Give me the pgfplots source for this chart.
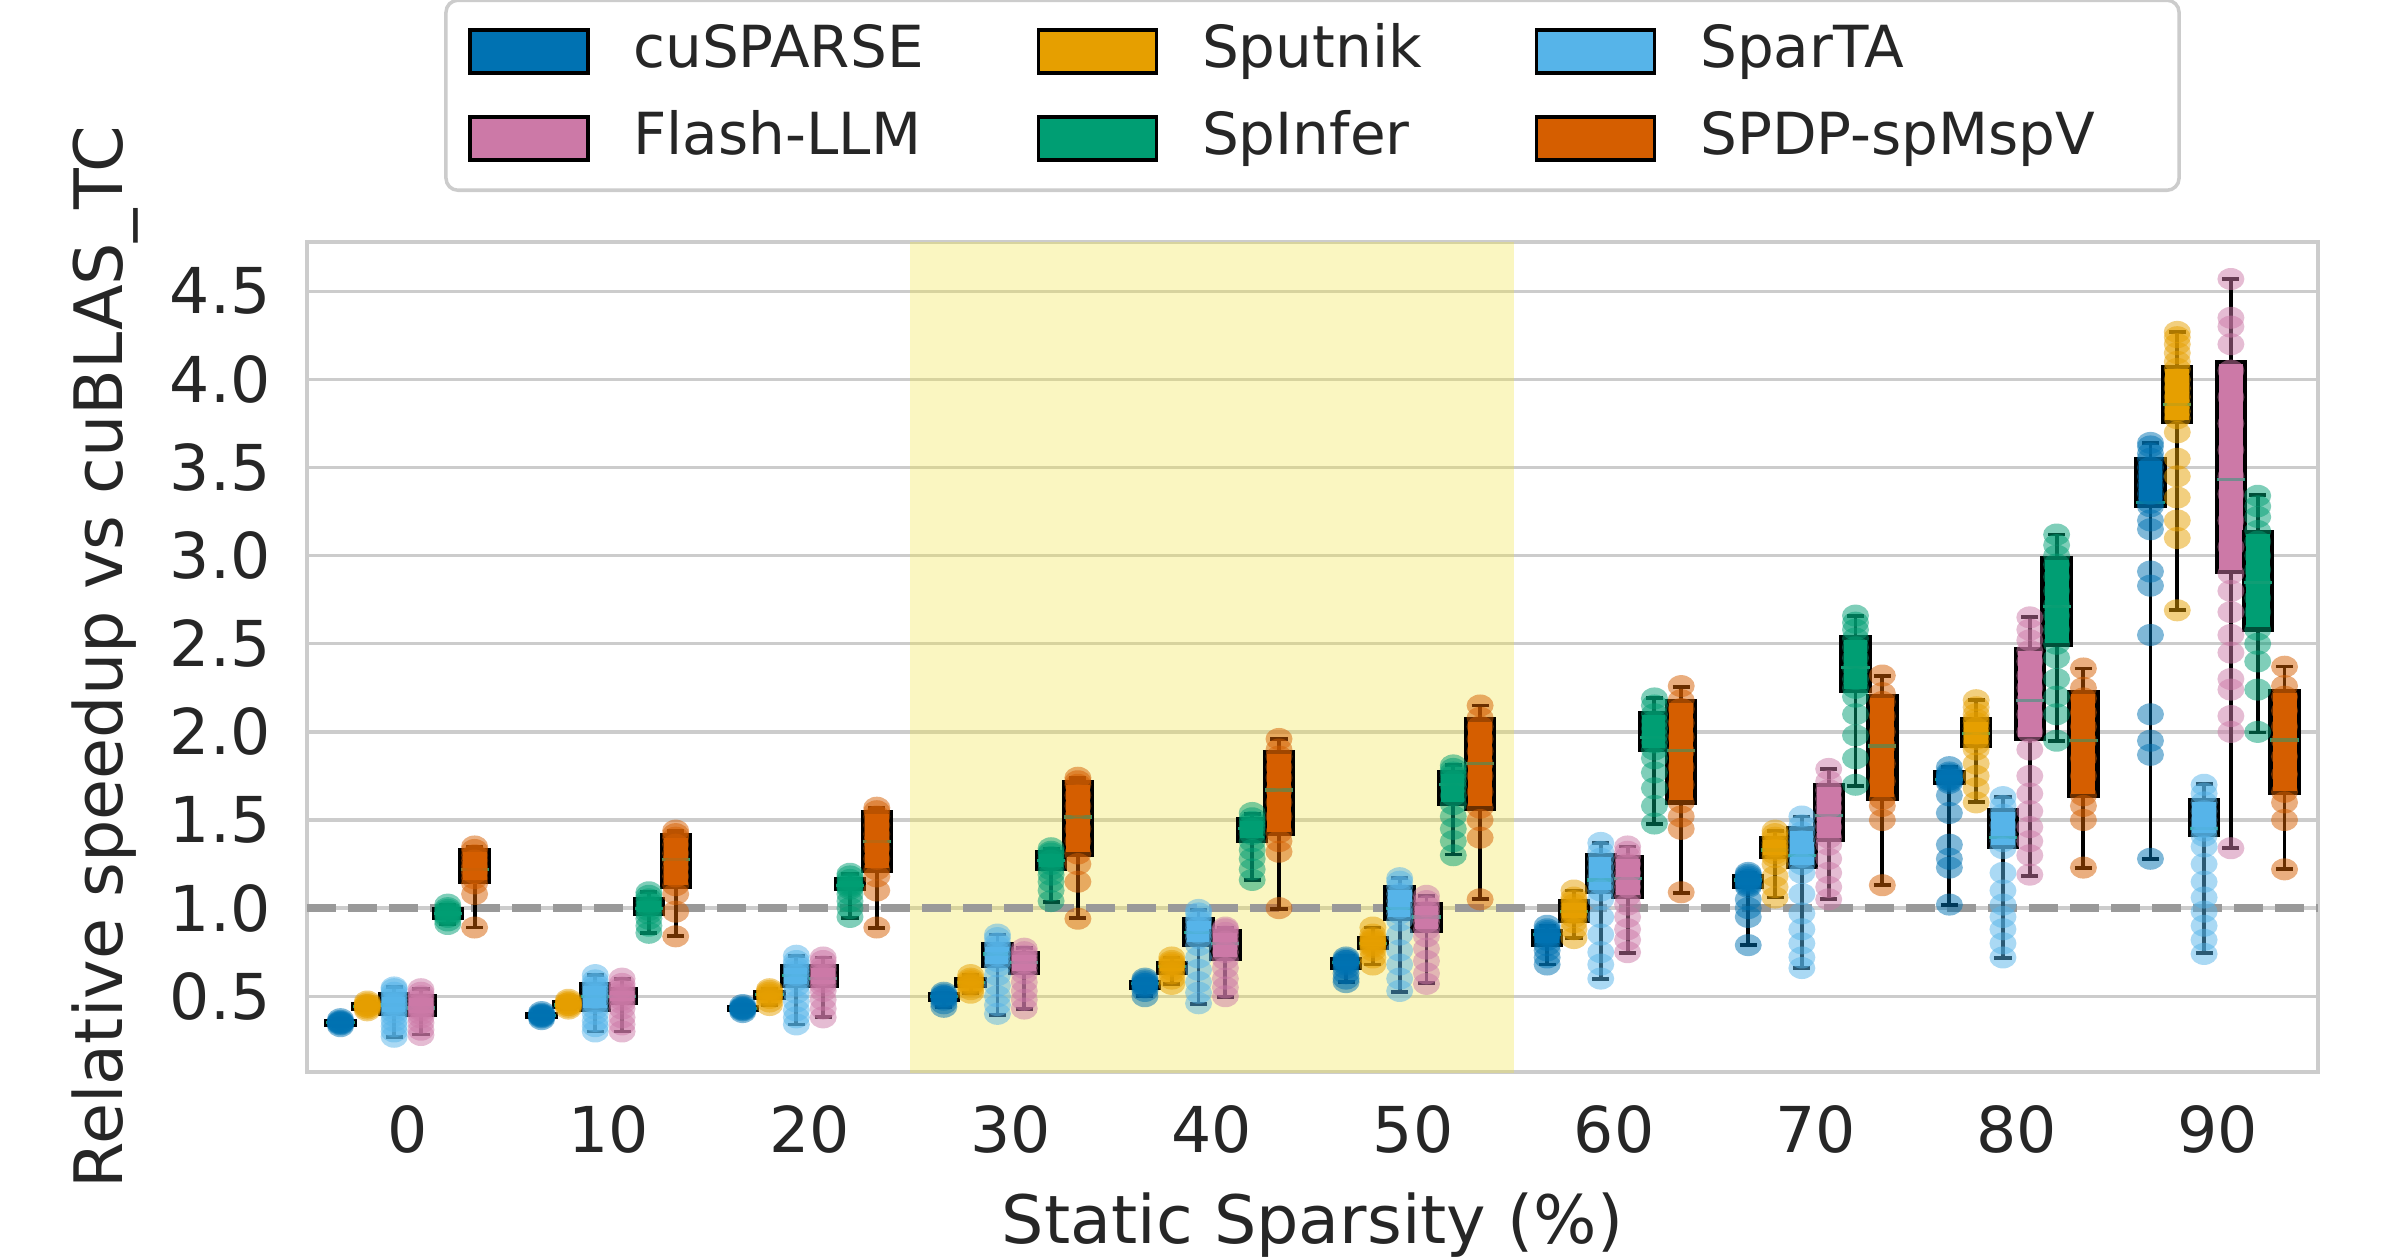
\documentclass[border=0pt]{standalone}
\usepackage{fontspec}
\setmainfont{DejaVu Sans}
\usepackage{pgfplots}
\usepackage{pgfplotstable}
\pgfplotsset{compat=1.18}
\usepgfplotslibrary{statistics}

\definecolor{cA}{HTML}{0072B2}
\definecolor{cB}{HTML}{E69F00}
\definecolor{cC}{HTML}{56B4E9}
\definecolor{cD}{HTML}{CC79A7}
\definecolor{cE}{HTML}{009E73}
\definecolor{cF}{HTML}{D55E00}
\definecolor{gridc}{HTML}{CCCCCC}
\definecolor{txt}{HTML}{262626}
\definecolor{hly}{HTML}{F0E442}
\definecolor{dashc}{HTML}{999999}
\definecolor{medc}{HTML}{1F9E78}

\pgfdeclareplotmark{ell}{%
  \pgfpathellipse{\pgfpointorigin}{\pgfqpoint{1.35mm}{0pt}}{\pgfqpoint{0pt}{1.1mm}}%
  \pgfusepathqfill}

\newcommand{\bx}[7]{\addplot[forget plot, draw=black, line width=1.2pt, fill=#1,
  boxplot prepared={draw direction=y, draw position={#2}, lower whisker=#3, lower quartile=#4,
  median=#5, upper quartile=#6, upper whisker=#7}] coordinates {};}
\newcommand{\bA}[6]{\bx{cA}{#1-0.3333}{#2}{#3}{#4}{#5}{#6}}
\newcommand{\bB}[6]{\bx{cB}{#1-0.2}{#2}{#3}{#4}{#5}{#6}}
\newcommand{\bC}[6]{\bx{cC}{#1-0.0667}{#2}{#3}{#4}{#5}{#6}}
\newcommand{\bD}[6]{\bx{cD}{#1+0.0667}{#2}{#3}{#4}{#5}{#6}}
\newcommand{\bE}[6]{\bx{cE}{#1+0.2}{#2}{#3}{#4}{#5}{#6}}
\newcommand{\bF}[6]{\bx{cF}{#1+0.3333}{#2}{#3}{#4}{#5}{#6}}

% cuSPARSE points
\pgfplotstableread[row sep=\\]{g v\\
0 0.33\\0 0.34\\0 0.345\\0 0.35\\0 0.35\\0 0.355\\0 0.36\\0 0.37\\
1 0.37\\1 0.38\\1 0.385\\1 0.39\\1 0.39\\1 0.395\\1 0.40\\1 0.41\\
2 0.41\\2 0.42\\2 0.425\\2 0.43\\2 0.43\\2 0.435\\2 0.44\\2 0.45\\
3 0.44\\3 0.46\\3 0.48\\3 0.49\\3 0.50\\3 0.50\\3 0.51\\3 0.52\\
4 0.50\\4 0.53\\4 0.55\\4 0.56\\4 0.57\\4 0.57\\4 0.58\\4 0.59\\4 0.60\\
5 0.58\\5 0.60\\5 0.63\\5 0.66\\5 0.68\\5 0.69\\5 0.70\\5 0.70\\5 0.71\\5 0.72\\
6 0.68\\6 0.72\\6 0.76\\6 0.79\\6 0.82\\6 0.84\\6 0.85\\6 0.86\\6 0.87\\6 0.88\\6 0.90\\
7 0.79\\7 0.95\\7 1.00\\7 1.05\\7 1.12\\7 1.13\\7 1.14\\7 1.15\\7 1.16\\7 1.16\\7 1.17\\7 1.18\\7 1.19\\7 1.20\\
8 1.02\\8 1.23\\8 1.28\\8 1.36\\8 1.54\\8 1.64\\8 1.71\\8 1.72\\8 1.73\\8 1.73\\8 1.74\\8 1.75\\8 1.76\\8 1.77\\8 1.80\\
9 1.28\\9 1.87\\9 1.95\\9 2.10\\9 2.55\\9 2.83\\9 2.91\\9 3.15\\9 3.20\\9 3.28\\9 3.30\\9 3.35\\9 3.40\\9 3.45\\9 3.50\\9 3.55\\9 3.58\\9 3.62\\9 3.64\\
}\tA
% Sputnik points
\pgfplotstableread[row sep=\\]{g v\\
0 0.42\\0 0.43\\0 0.44\\0 0.44\\0 0.45\\0 0.45\\0 0.46\\0 0.47\\
1 0.43\\1 0.44\\1 0.45\\1 0.45\\1 0.46\\1 0.46\\1 0.47\\1 0.48\\
2 0.45\\2 0.47\\2 0.49\\2 0.50\\2 0.51\\2 0.52\\2 0.53\\2 0.54\\
3 0.52\\3 0.54\\3 0.56\\3 0.57\\3 0.58\\3 0.59\\3 0.60\\3 0.62\\
4 0.57\\4 0.60\\4 0.63\\4 0.65\\4 0.67\\4 0.68\\4 0.69\\4 0.70\\4 0.72\\
5 0.68\\5 0.72\\5 0.76\\5 0.78\\5 0.79\\5 0.80\\5 0.81\\5 0.82\\5 0.83\\5 0.85\\5 0.89\\
6 0.83\\6 0.88\\6 0.92\\6 0.95\\6 0.97\\6 0.98\\6 1.00\\6 1.02\\6 1.04\\6 1.06\\6 1.10\\
7 1.06\\7 1.12\\7 1.18\\7 1.25\\7 1.29\\7 1.31\\7 1.33\\7 1.35\\7 1.37\\7 1.40\\7 1.42\\7 1.44\\
8 1.60\\8 1.68\\8 1.75\\8 1.82\\8 1.90\\8 1.93\\8 1.96\\8 1.99\\8 2.02\\8 2.05\\8 2.07\\8 2.10\\8 2.14\\8 2.18\\
9 2.69\\9 3.10\\9 3.20\\9 3.33\\9 3.45\\9 3.55\\9 3.70\\9 3.78\\9 3.82\\9 3.86\\9 3.90\\9 3.95\\9 4.00\\9 4.06\\9 4.10\\9 4.15\\9 4.20\\9 4.24\\9 4.27\\
}\tB
% SparTA points
\pgfplotstableread[row sep=\\]{g v\\
0 0.27\\0 0.30\\0 0.33\\0 0.36\\0 0.39\\0 0.41\\0 0.43\\0 0.45\\0 0.46\\0 0.48\\0 0.50\\0 0.52\\0 0.54\\0 0.55\\
1 0.30\\1 0.33\\1 0.36\\1 0.40\\1 0.43\\1 0.46\\1 0.49\\1 0.51\\1 0.53\\1 0.55\\1 0.57\\1 0.59\\1 0.62\\
2 0.34\\2 0.38\\2 0.42\\2 0.47\\2 0.52\\2 0.56\\2 0.59\\2 0.62\\2 0.64\\2 0.66\\2 0.68\\2 0.70\\2 0.73\\
3 0.40\\3 0.45\\3 0.50\\3 0.56\\3 0.62\\3 0.67\\3 0.70\\3 0.73\\3 0.75\\3 0.78\\3 0.80\\3 0.83\\3 0.85\\
4 0.46\\4 0.52\\4 0.58\\4 0.65\\4 0.72\\4 0.79\\4 0.83\\4 0.86\\4 0.89\\4 0.92\\4 0.94\\4 0.97\\4 0.99\\
5 0.53\\5 0.60\\5 0.68\\5 0.76\\5 0.85\\5 0.93\\5 0.97\\5 1.00\\5 1.04\\5 1.08\\5 1.12\\5 1.15\\5 1.17\\
6 0.60\\6 0.68\\6 0.75\\6 0.85\\6 0.95\\6 1.05\\6 1.10\\6 1.14\\6 1.18\\6 1.23\\6 1.28\\6 1.32\\6 1.37\\
7 0.66\\7 0.72\\7 0.80\\7 0.88\\7 0.97\\7 1.08\\7 1.20\\7 1.25\\7 1.29\\7 1.33\\7 1.38\\7 1.43\\7 1.47\\7 1.52\\
8 0.72\\8 0.80\\8 0.88\\8 0.95\\8 1.02\\8 1.10\\8 1.20\\8 1.34\\8 1.38\\8 1.42\\8 1.47\\8 1.53\\8 1.58\\8 1.63\\
9 0.74\\9 0.82\\9 0.90\\9 0.98\\9 1.06\\9 1.15\\9 1.25\\9 1.35\\9 1.41\\9 1.44\\9 1.46\\9 1.50\\9 1.55\\9 1.60\\9 1.65\\9 1.70\\
}\tC
% Flash-LLM points
\pgfplotstableread[row sep=\\]{g v\\
0 0.28\\0 0.31\\0 0.35\\0 0.38\\0 0.40\\0 0.42\\0 0.43\\0 0.44\\0 0.46\\0 0.48\\0 0.50\\0 0.52\\0 0.54\\
1 0.30\\1 0.34\\1 0.38\\1 0.43\\1 0.46\\1 0.48\\1 0.50\\1 0.51\\1 0.53\\1 0.55\\1 0.57\\1 0.60\\
2 0.38\\2 0.43\\2 0.48\\2 0.53\\2 0.56\\2 0.58\\2 0.60\\2 0.62\\2 0.65\\2 0.67\\2 0.70\\2 0.72\\
3 0.43\\3 0.48\\3 0.53\\3 0.58\\3 0.63\\3 0.66\\3 0.69\\3 0.71\\3 0.73\\3 0.75\\3 0.77\\
4 0.50\\4 0.55\\4 0.60\\4 0.66\\4 0.71\\4 0.75\\4 0.79\\4 0.81\\4 0.84\\4 0.86\\4 0.88\\4 0.89\\
5 0.57\\5 0.63\\5 0.70\\5 0.77\\5 0.84\\5 0.88\\5 0.92\\5 0.95\\5 0.98\\5 1.01\\5 1.04\\5 1.07\\
6 0.75\\6 0.82\\6 0.88\\6 0.95\\6 1.02\\6 1.07\\6 1.12\\6 1.16\\6 1.20\\6 1.25\\6 1.29\\6 1.32\\6 1.35\\
7 1.05\\7 1.12\\7 1.20\\7 1.28\\7 1.36\\7 1.40\\7 1.46\\7 1.52\\7 1.57\\7 1.62\\7 1.67\\7 1.72\\7 1.79\\
8 1.19\\8 1.30\\8 1.38\\8 1.46\\8 1.55\\8 1.65\\8 1.75\\8 1.90\\8 2.00\\8 2.10\\8 2.18\\8 2.25\\8 2.32\\8 2.40\\8 2.46\\8 2.52\\8 2.58\\8 2.65\\
9 1.34\\9 2.00\\9 2.09\\9 2.24\\9 2.30\\9 2.45\\9 2.55\\9 2.68\\9 2.80\\9 2.90\\9 3.05\\9 3.20\\9 3.35\\9 3.45\\9 3.60\\9 3.75\\9 3.90\\9 4.05\\9 4.20\\9 4.30\\9 4.35\\9 4.57\\
}\tD
% SpInfer points
\pgfplotstableread[row sep=\\]{g v\\
0 0.91\\0 0.93\\0 0.95\\0 0.96\\0 0.97\\0 0.98\\0 0.99\\0 1.00\\0 1.02\\
1 0.86\\1 0.90\\1 0.94\\1 0.97\\1 0.99\\1 1.01\\1 1.03\\1 1.05\\1 1.07\\1 1.09\\
2 0.95\\2 1.00\\2 1.04\\2 1.08\\2 1.11\\2 1.12\\2 1.13\\2 1.14\\2 1.16\\2 1.18\\2 1.195\\
3 1.04\\3 1.10\\3 1.15\\3 1.19\\3 1.22\\3 1.25\\3 1.27\\3 1.29\\3 1.31\\3 1.32\\3 1.34\\
4 1.16\\4 1.22\\4 1.28\\4 1.33\\4 1.38\\4 1.42\\4 1.45\\4 1.47\\4 1.49\\4 1.51\\4 1.54\\
5 1.30\\5 1.38\\5 1.45\\5 1.52\\5 1.59\\5 1.64\\5 1.69\\5 1.72\\5 1.75\\5 1.77\\5 1.79\\5 1.81\\
6 1.48\\6 1.58\\6 1.68\\6 1.77\\6 1.85\\6 1.90\\6 1.94\\6 1.98\\6 2.02\\6 2.06\\6 2.10\\6 2.15\\6 2.19\\
7 1.70\\7 1.85\\7 1.98\\7 2.10\\7 2.20\\7 2.25\\7 2.30\\7 2.36\\7 2.42\\7 2.48\\7 2.53\\7 2.58\\7 2.62\\7 2.66\\
8 1.95\\8 2.10\\8 2.20\\8 2.30\\8 2.42\\8 2.50\\8 2.58\\8 2.66\\8 2.72\\8 2.80\\8 2.88\\8 2.95\\8 3.00\\8 3.06\\8 3.12\\
9 2.00\\9 2.24\\9 2.40\\9 2.50\\9 2.58\\9 2.68\\9 2.76\\9 2.85\\9 2.92\\9 3.00\\9 3.08\\9 3.14\\9 3.22\\9 3.28\\9 3.34\\
}\tE
% SPDP-spMspV points
\pgfplotstableread[row sep=\\]{g v\\
0 0.89\\0 1.08\\0 1.14\\0 1.17\\0 1.20\\0 1.22\\0 1.24\\0 1.27\\0 1.30\\0 1.33\\0 1.35\\
1 0.84\\1 0.98\\1 1.08\\1 1.13\\1 1.18\\1 1.23\\1 1.27\\1 1.31\\1 1.36\\1 1.40\\1 1.42\\1 1.44\\
2 0.89\\2 1.10\\2 1.18\\2 1.22\\2 1.28\\2 1.34\\2 1.38\\2 1.42\\2 1.47\\2 1.52\\2 1.55\\2 1.57\\
3 0.94\\3 1.15\\3 1.25\\3 1.31\\3 1.38\\3 1.45\\3 1.52\\3 1.58\\3 1.64\\3 1.70\\3 1.72\\3 1.74\\
4 1.00\\4 1.32\\4 1.38\\4 1.43\\4 1.52\\4 1.60\\4 1.67\\4 1.74\\4 1.80\\4 1.86\\4 1.90\\4 1.96\\
5 1.05\\5 1.40\\5 1.50\\5 1.57\\5 1.66\\5 1.75\\5 1.82\\5 1.89\\5 1.96\\5 2.03\\5 2.08\\5 2.15\\
6 1.09\\6 1.45\\6 1.52\\6 1.60\\6 1.70\\6 1.80\\6 1.89\\6 1.97\\6 2.05\\6 2.13\\6 2.18\\6 2.26\\
7 1.13\\7 1.50\\7 1.58\\7 1.62\\7 1.72\\7 1.82\\7 1.92\\7 2.00\\7 2.09\\7 2.17\\7 2.22\\7 2.32\\
8 1.23\\8 1.50\\8 1.58\\8 1.64\\8 1.75\\8 1.85\\8 1.95\\8 2.03\\8 2.11\\8 2.19\\8 2.25\\8 2.36\\
9 1.22\\9 1.50\\9 1.60\\9 1.66\\9 1.76\\9 1.86\\9 1.95\\9 2.03\\9 2.12\\9 2.20\\9 2.26\\9 2.37\\
}\tF

\begin{document}
\begin{tikzpicture}
\path[use as bounding box] (-30.7mm,-18.6mm) rectangle (209.3mm,107.2mm);
\begin{axis}[
  at={(0,0)}, anchor=south west,
  width=201.1mm, height=83.0mm, scale only axis,
  xmin=-0.5, xmax=9.5, ymin=0.07, ymax=4.78,
  xtick={0,1,2,3,4,5,6,7,8,9},
  xticklabels={0,10,20,30,40,50,60,70,80,90},
  ytick={0.5,1.0,1.5,2.0,2.5,3.0,3.5,4.0,4.5},
  /pgf/number format/fixed,
  /pgf/number format/fixed zerofill,
  /pgf/number format/precision=1,
  /pgf/number format/assume math mode=true,
  major tick length=0pt,
  ymajorgrids, grid style={gridc, line width=0.95pt},
  axis line style={gridc, line width=1.1pt},
  tick label style={font=\fontsize{18}{21}\selectfont, text=txt},
  xticklabel style={yshift=-2.1mm},
  yticklabel style={xshift=-2.4mm},
  label style={font=\fontsize{19}{22}\selectfont, text=txt},
  xlabel={Static Sparsity (\%)},
  ylabel={Relative speedup vs cuBLAS\_TC},
  xlabel style={at={(axis description cs:0.5,-0.184)}, anchor=center},
  ylabel style={at={(axis description cs:-0.1005,0.5)}, anchor=center},
  boxplot/box extend=0.14,
  boxplot/whisker extend=0.085,
  boxplot/every whisker/.style={draw=black, fill=none, line width=1.1pt},
  boxplot/every median/.style={draw=medc, fill=none, line width=0.9pt},
  legend columns=3,
  legend cell align=left,
  legend style={at={(0.5,1)}, anchor=south, yshift=5.0mm,
    draw=gridc, line width=1pt, rounded corners=1.2mm, fill=white,
    font=\fontsize{16.5}{19.5}\selectfont, text=txt,
    inner xsep=2.2mm, inner ysep=1.9mm,
    nodes={inner sep=0.4mm, text height=4.4mm, text depth=1.3mm},
    row sep=2.2mm,
    /tikz/every odd column/.append style={column sep=4.0mm},
    /tikz/every even column/.append style={column sep=10.9mm}},
]
% highlight band and reference line
\fill[hly, fill opacity=0.33] (axis cs:2.5,0) rectangle (axis cs:5.5,5);
\draw[dashc, line width=2.1pt, dash pattern=on 2.9mm off 1.2mm] (axis cs:-0.5,1) -- (axis cs:9.5,1);

% legend
\addlegendimage{legend image code/.code={\draw[sharp corners,draw=black,line width=1pt,fill=cA] (0mm,-2.15mm) rectangle (11.8mm,2.15mm);}}
\addlegendentry{cuSPARSE}
\addlegendimage{legend image code/.code={\draw[sharp corners,draw=black,line width=1pt,fill=cB] (0mm,-2.15mm) rectangle (11.8mm,2.15mm);}}
\addlegendentry{Sputnik}
\addlegendimage{legend image code/.code={\draw[sharp corners,draw=black,line width=1pt,fill=cC] (0mm,-2.15mm) rectangle (11.8mm,2.15mm);}}
\addlegendentry{SparTA}
\addlegendimage{legend image code/.code={\draw[sharp corners,draw=black,line width=1pt,fill=cD] (0mm,-2.15mm) rectangle (11.8mm,2.15mm);}}
\addlegendentry{Flash-LLM}
\addlegendimage{legend image code/.code={\draw[sharp corners,draw=black,line width=1pt,fill=cE] (0mm,-2.15mm) rectangle (11.8mm,2.15mm);}}
\addlegendentry{SpInfer}
\addlegendimage{legend image code/.code={\draw[sharp corners,draw=black,line width=1pt,fill=cF] (0mm,-2.15mm) rectangle (11.8mm,2.15mm);}}
\addlegendentry{SPDP-spMspV\rule{5.8mm}{0pt}}

% boxes: group, lower whisker, Q1, median, Q3, upper whisker
\bA{0}{0.33}{0.34}{0.35}{0.36}{0.37}
\bA{1}{0.37}{0.38}{0.39}{0.40}{0.41}
\bA{2}{0.41}{0.42}{0.43}{0.44}{0.45}
\bA{3}{0.44}{0.48}{0.50}{0.51}{0.52}
\bA{4}{0.50}{0.55}{0.57}{0.58}{0.60}
\bA{5}{0.58}{0.66}{0.69}{0.71}{0.73}
\bA{6}{0.68}{0.79}{0.85}{0.87}{0.90}
\bA{7}{0.79}{1.12}{1.16}{1.18}{1.20}
\bA{8}{1.02}{1.71}{1.73}{1.77}{1.80}
\bA{9}{1.28}{3.28}{3.30}{3.55}{3.64}

\bB{0}{0.42}{0.43}{0.44}{0.455}{0.47}
\bB{1}{0.43}{0.44}{0.45}{0.465}{0.48}
\bB{2}{0.45}{0.49}{0.51}{0.525}{0.54}
\bB{3}{0.52}{0.56}{0.58}{0.60}{0.62}
\bB{4}{0.57}{0.63}{0.67}{0.69}{0.72}
\bB{5}{0.68}{0.775}{0.80}{0.832}{0.89}
\bB{6}{0.83}{0.93}{0.98}{1.04}{1.10}
\bB{7}{1.06}{1.29}{1.33}{1.40}{1.44}
\bB{8}{1.60}{1.92}{1.99}{2.07}{2.18}
\bB{9}{2.69}{3.76}{3.86}{4.07}{4.27}

\bC{0}{0.27}{0.40}{0.45}{0.51}{0.55}
\bC{1}{0.30}{0.42}{0.50}{0.57}{0.62}
\bC{2}{0.34}{0.557}{0.62}{0.67}{0.73}
\bC{3}{0.395}{0.67}{0.74}{0.794}{0.85}
\bC{4}{0.455}{0.794}{0.86}{0.937}{0.99}
\bC{5}{0.524}{0.937}{1.00}{1.117}{1.17}
\bC{6}{0.60}{1.09}{1.16}{1.30}{1.37}
\bC{7}{0.66}{1.234}{1.30}{1.452}{1.52}
\bC{8}{0.717}{1.345}{1.40}{1.557}{1.63}
\bC{9}{0.743}{1.414}{1.452}{1.612}{1.706}

\bD{0}{0.283}{0.395}{0.433}{0.50}{0.54}
\bD{1}{0.30}{0.46}{0.50}{0.54}{0.60}
\bD{2}{0.38}{0.557}{0.60}{0.67}{0.72}
\bD{3}{0.43}{0.632}{0.69}{0.746}{0.775}
\bD{4}{0.495}{0.71}{0.80}{0.87}{0.89}
\bD{5}{0.574}{0.87}{0.95}{1.022}{1.07}
\bD{6}{0.745}{1.064}{1.17}{1.291}{1.35}
\bD{7}{1.054}{1.386}{1.525}{1.699}{1.79}
\bD{8}{1.184}{1.96}{2.177}{2.47}{2.65}
\bD{9}{1.343}{2.906}{3.431}{4.099}{4.569}

\bE{0}{0.91}{0.946}{0.97}{0.994}{1.02}
\bE{1}{0.86}{0.965}{1.00}{1.05}{1.09}
\bE{2}{0.946}{1.108}{1.13}{1.165}{1.195}
\bE{3}{1.037}{1.222}{1.27}{1.317}{1.336}
\bE{4}{1.16}{1.384}{1.45}{1.508}{1.536}
\bE{5}{1.304}{1.593}{1.70}{1.773}{1.81}
\bE{6}{1.477}{1.898}{1.97}{2.107}{2.19}
\bE{7}{1.695}{2.233}{2.366}{2.536}{2.659}
\bE{8}{1.947}{2.492}{2.713}{2.987}{3.12}
\bE{9}{1.997}{2.581}{2.848}{3.134}{3.343}

\bF{0}{0.89}{1.15}{1.217}{1.33}{1.35}
\bF{1}{0.842}{1.12}{1.274}{1.412}{1.44}
\bF{2}{0.886}{1.213}{1.38}{1.545}{1.57}
\bF{3}{0.943}{1.304}{1.517}{1.713}{1.74}
\bF{4}{0.994}{1.422}{1.67}{1.887}{1.96}
\bF{5}{1.05}{1.565}{1.82}{2.07}{2.15}
\bF{6}{1.088}{1.599}{1.893}{2.174}{2.255}
\bF{7}{1.133}{1.619}{1.92}{2.205}{2.318}
\bF{8}{1.228}{1.637}{1.952}{2.226}{2.36}
\bF{9}{1.223}{1.655}{1.954}{2.231}{2.371}

% strip points
\addplot[forget plot, only marks, mark=ell, mark options={fill=cA, fill opacity=0.5, draw=none}] table[x expr=\thisrow{g}-0.3333, y=v] {\tA};
\addplot[forget plot, only marks, mark=ell, mark options={fill=cB, fill opacity=0.5, draw=none}] table[x expr=\thisrow{g}-0.2, y=v] {\tB};
\addplot[forget plot, only marks, mark=ell, mark options={fill=cC, fill opacity=0.5, draw=none}] table[x expr=\thisrow{g}-0.0667, y=v] {\tC};
\addplot[forget plot, only marks, mark=ell, mark options={fill=cD, fill opacity=0.5, draw=none}] table[x expr=\thisrow{g}+0.0667, y=v] {\tD};
\addplot[forget plot, only marks, mark=ell, mark options={fill=cE, fill opacity=0.5, draw=none}] table[x expr=\thisrow{g}+0.2, y=v] {\tE};
\addplot[forget plot, only marks, mark=ell, mark options={fill=cF, fill opacity=0.5, draw=none}] table[x expr=\thisrow{g}+0.3333, y=v] {\tF};
\end{axis}
\end{tikzpicture}
\end{document}
